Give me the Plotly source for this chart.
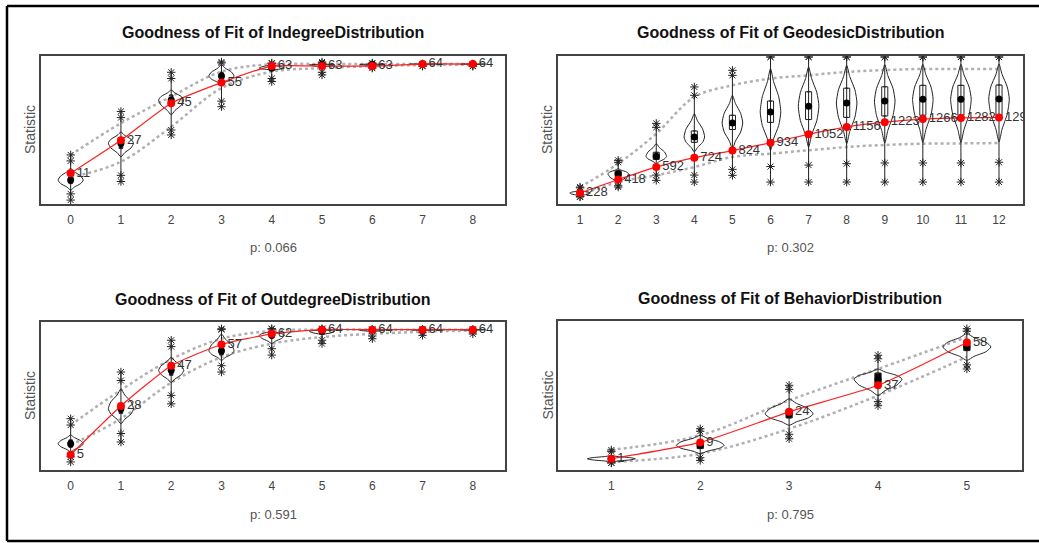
import plotly.graph_objects as go

# ---------------- data ----------------
# Indegree distribution (top-left)
IND_X = [0, 1, 2, 3, 4, 5, 6, 7, 8]
IND_OBS = [11, 27, 45, 55, 63, 63, 63, 64, 64]
IND_MED = [7.7, 25.6, 46.6, 58.2, 62.0, 63.6, 63.8, 64.0, 64.0]
IND_Q1 = [6.0, 23.0, 44.0, 56.5, 61.5, 63.0, 63.5, 64.0, 64.0]
IND_Q3 = [9.5, 28.0, 49.0, 60.0, 63.0, 64.0, 64.0, 64.0, 64.0]
IND_BAND_HI = [19.9, 35.3, 48.2, 60.3, 63.9, 64.0, 64.0, 64.0, 64.0]
IND_BAND_LO = [9.0, 16.6, 33.6, 52.3, 60.3, 62.0, 63.0, 63.5, 63.7]
IND_VIO_LO = [2.9, 19.0, 39.3, 53.9, 61.0, 62.5, 63.3, 63.7, 63.8]
IND_VIO_HI = [13.4, 31.0, 51.4, 63.6, 63.8, 64.0, 64.0, 64.0, 64.0]
IND_MIN = [-2.0, 7.0, 29.6, 43.3, 55.5, 58.7, 62.0, 63.0, 63.0]
IND_STAR_LO = [1.0, 10.0, 32.0, 46.0, 57.0, 60.0, 62.5, 63.0, 63.0]
IND_STAR_HI = [17.0, 38.0, 57.0, 64.5, 64.2, 64.5, 64.2, 64.0, 64.0]
IND_MAX = [19.9, 41.0, 60.0, 65.0, 64.5, 65.0, 64.5, 64.0, 64.0]

# Geodesic distribution (top-right)
GEO_X = [1, 2, 3, 4, 5, 6, 7, 8, 9, 10, 11, 12]
GEO_OBS = [228, 418, 592, 724, 824, 934, 1052, 1156, 1223, 1266, 1282, 1290]
GEO_MED = [228, 500, 743, 1014, 1211, 1366, 1446, 1492, 1520, 1544, 1544, 1548]
GEO_Q1 = [215, 460, 700, 940, 1120, 1220, 1260, 1290, 1310, 1320, 1320, 1320]
GEO_Q3 = [240, 540, 800, 1100, 1320, 1520, 1650, 1700, 1720, 1740, 1740, 1745]
GEO_BAND_HI = [312, 640, 1062, 1576, 1741, 1835, 1881, 1928, 1955, 1970, 1970, 1970]
GEO_BAND_LO = [200, 382, 477, 593, 734, 781, 828, 874, 903, 921, 925, 930]
GEO_VIO_LO = [185, 360, 640, 804, 851, 828, 874, 921, 930, 940, 940, 945]
GEO_VIO_HI = [265, 570, 921, 1343, 1600, 1975, 1998, 2022, 2030, 2035, 2035, 2040]
GEO_MIN = [172, 312, 406, 382, 476, 382, 382, 382, 382, 382, 382, 382]
GEO_STAR_LO = [180, 330, 480, 480, 560, 600, 620, 640, 650, 650, 650, 660]
GEO_STAR_HI = [300, 660, 1150, 1600, 1880, 2138, 2138, 2138, 2138, 2138, 2138, 2138]
GEO_MAX = [312, 687, 1206, 1717, 1951, 2138, 2138, 2138, 2138, 2138, 2138, 2138]

# Outdegree distribution (bottom-left)
OUT_X = [0, 1, 2, 3, 4, 5, 6, 7, 8]
OUT_OBS = [5, 28, 47, 57, 62, 64, 64, 64, 64]
OUT_MED = [10.2, 26.7, 44.8, 54.0, 61.3, 63.2, 63.8, 64.0, 64.0]
OUT_Q1 = [8.5, 24.5, 42.5, 52.0, 60.0, 62.5, 63.5, 64.0, 64.0]
OUT_Q3 = [12.0, 29.0, 47.0, 56.5, 62.5, 64.0, 64.0, 64.0, 64.0]
OUT_BAND_HI = [19.0, 35.5, 50.0, 59.7, 63.4, 64.0, 64.0, 64.0, 64.0]
OUT_BAND_LO = [9.6, 22.0, 39.0, 51.0, 57.4, 60.5, 62.0, 63.0, 63.5]
OUT_VIO_LO = [6.3, 19.6, 39.0, 49.5, 57.4, 61.5, 63.0, 63.5, 63.7]
OUT_VIO_HI = [14.3, 36.0, 51.0, 62.0, 63.5, 64.0, 64.0, 64.0, 64.0]
OUT_MIN = [1.6, 11.0, 29.0, 44.0, 52.0, 57.4, 59.7, 61.3, 62.0]
OUT_STAR_LO = [4.0, 15.0, 33.0, 47.0, 55.0, 59.0, 61.0, 62.5, 63.0]
OUT_STAR_HI = [19.0, 40.0, 56.0, 64.0, 64.2, 64.2, 64.0, 64.0, 64.0]
OUT_MAX = [22.0, 44.0, 59.0, 64.4, 64.5, 64.5, 64.0, 64.0, 64.0]

# Behavior distribution (bottom-right)
BEH_X = [1, 2, 3, 4, 5]
BEH_OBS = [1, 9, 24, 37, 58]
BEH_MED = [1.0, 7.6, 23.0, 40.0, 55.8]
BEH_Q1 = [0.5, 6.0, 21.0, 38.0, 54.0]
BEH_Q3 = [1.5, 9.0, 25.0, 43.0, 57.5]
BEH_BAND_HI = [5.4, 12.5, 29.6, 45.0, 60.6]
BEH_BAND_LO = [-0.6, 3.5, 15.7, 32.0, 50.9]
BEH_VIO_LO = [-0.5, 3.5, 17.4, 32.0, 49.2]
BEH_VIO_HI = [2.5, 12.5, 30.4, 45.0, 62.3]
BEH_MIN = [-1.0, 0.2, 10.8, 27.0, 45.0]
BEH_STAR_LO = [-1.0, 1.5, 13.0, 29.0, 47.0]
BEH_STAR_HI = [4.5, 14.5, 35.0, 50.0, 63.5]
BEH_MAX = [5.3, 15.7, 37.0, 51.7, 64.7]

TITLES = ["Goodness of Fit of IndegreeDistribution",
          "Goodness of Fit of GeodesicDistribution",
          "Goodness of Fit of OutdegreeDistribution",
          "Goodness of Fit of BehaviorDistribution"]
P_LABELS = ["p: 0.066", "p: 0.302", "p: 0.591", "p: 0.795"]

# relative violin outline profile (fraction of half-height, fraction of max width)
PROFILE_T = [0.0, 0.3, 0.65, 1.0]
PROFILE_W = [0.0, 0.3, 0.8, 1.0]

FONT = "Liberation Sans, Arial, sans-serif"

panels = [
    dict(x=IND_X, obs=IND_OBS, med=IND_MED, q1=IND_Q1, q3=IND_Q3, bhi=IND_BAND_HI, blo=IND_BAND_LO,
         vlo=IND_VIO_LO, vhi=IND_VIO_HI, mn=IND_MIN, slo=IND_STAR_LO, shi=IND_STAR_HI, mx=IND_MAX,
         xr=[-0.59, 8.64], yr=[-3.9, 67.9], w=0.25, boxfill="black", bw=0.07,
         xd=[41 / 1039, 505 / 1039], yd=[1 - 204 / 543, 1 - 56 / 543]),
    dict(x=GEO_X, obs=GEO_OBS, med=GEO_MED, q1=GEO_Q1, q3=GEO_Q3, bhi=GEO_BAND_HI, blo=GEO_BAND_LO,
         vlo=GEO_VIO_LO, vhi=GEO_VIO_HI, mn=GEO_MIN, slo=GEO_STAR_LO, shi=GEO_STAR_HI, mx=GEO_MAX,
         xr=[0.42, 12.63], yr=[74, 2152], w=0.27, boxfill="white", bw=0.16,
         xd=[558 / 1039, 1023 / 1039], yd=[1 - 204 / 543, 1 - 56 / 543]),
    dict(x=OUT_X, obs=OUT_OBS, med=OUT_MED, q1=OUT_Q1, q3=OUT_Q3, bhi=OUT_BAND_HI, blo=OUT_BAND_LO,
         vlo=OUT_VIO_LO, vhi=OUT_VIO_HI, mn=OUT_MIN, slo=OUT_STAR_LO, shi=OUT_STAR_HI, mx=OUT_MAX,
         xr=[-0.59, 8.64], yr=[-2.2, 67.6], w=0.25, boxfill="black", bw=0.07,
         xd=[41 / 1039, 505 / 1039], yd=[1 - 470 / 543, 1 - 322 / 543]),
    dict(x=BEH_X, obs=BEH_OBS, med=BEH_MED, q1=BEH_Q1, q3=BEH_Q3, bhi=BEH_BAND_HI, blo=BEH_BAND_LO,
         vlo=BEH_VIO_LO, vhi=BEH_VIO_HI, mn=BEH_MIN, slo=BEH_STAR_LO, shi=BEH_STAR_HI, mx=BEH_MAX,
         xr=[0.40, 5.62], yr=[-4.5, 68.5], w=0.27, boxfill="black", bw=0.07,
         xd=[558 / 1039, 1022 / 1039], yd=[1 - 470 / 543, 1 - 321 / 543]),
]

fig = go.Figure()
layout_axes = {}
annotations = []

for i, p in enumerate(panels):
    n = "" if i == 0 else str(i + 1)
    xa, ya = "x" + n, "y" + n
    common = dict(xaxis=xa, yaxis=ya, showlegend=False, hoverinfo="skip")

    # grey dotted bands
    for band in (p["bhi"], p["blo"]):
        fig.add_trace(go.Scatter(x=p["x"], y=band, mode="lines",
                                 line=dict(color="#b0b0b0", width=2.5, dash="dot", shape="spline"),
                                 **common))

    # vertical whisker lines
    vx, vy = [], []
    for xv, lo, hi in zip(p["x"], p["mn"], p["mx"]):
        vx += [xv, xv, None]
        vy += [lo, hi, None]
    fig.add_trace(go.Scatter(x=vx, y=vy, mode="lines", line=dict(color="#222", width=1), **common))

    # violin outlines
    for xv, lo, md, hi in zip(p["x"], p["vlo"], p["med"], p["vhi"]):
        right_x, right_y = [], []
        for t, wf in zip(PROFILE_T, PROFILE_W):
            right_x.append(xv + p["w"] * wf)
            right_y.append(lo + (md - lo) * t)
        for t, wf in zip(PROFILE_T[::-1][1:], PROFILE_W[::-1][1:]):
            right_x.append(xv + p["w"] * wf)
            right_y.append(md + (hi - md) * (1 - t))
        left_x = [2 * xv - v for v in right_x[::-1]]
        left_y = right_y[::-1]
        fig.add_trace(go.Scatter(x=right_x + left_x[1:], y=right_y + left_y[1:], mode="lines",
                                 line=dict(color="#222", width=1, shape="spline", smoothing=0.6),
                                 **common))

    # inner boxes
    fig.add_trace(go.Box(x=p["x"], q1=p["q1"], median=p["med"], q3=p["q3"],
                         lowerfence=p["q1"], upperfence=p["q3"], width=p["bw"],
                         fillcolor=p["boxfill"], line=dict(color="#222", width=1),
                         boxpoints=False, xaxis=xa, yaxis=ya, showlegend=False, hoverinfo="skip"))

    # simulated extreme values
    sx, sy = [], []
    for xv, a, b, c, d in zip(p["x"], p["mn"], p["slo"], p["shi"], p["mx"]):
        sx += [xv, xv, xv, xv]
        sy += [a, b, c, d]
    fig.add_trace(go.Scatter(x=sx, y=sy, mode="markers",
                             marker=dict(symbol="asterisk-open", size=7, color="#222",
                                         line=dict(color="#222", width=1)),
                             **common))

    # medians
    fig.add_trace(go.Scatter(x=p["x"], y=p["med"], mode="markers",
                             marker=dict(symbol="circle", size=7, color="black"), **common))

    # observed values
    fig.add_trace(go.Scatter(x=p["x"], y=p["obs"], mode="lines+markers+text",
                             line=dict(color="#ff2020", width=1.2, shape="spline", smoothing=0.5),
                             marker=dict(color="#ff0000", size=8),
                             text=[str(v) for v in p["obs"]], textposition="middle right",
                             textfont=dict(family=FONT, size=13, color="#333"),
                             cliponaxis=True, **common))

    layout_axes["xaxis" + n] = dict(domain=p["xd"], range=p["xr"], anchor=ya,
                                    tickvals=p["x"], ticktext=[str(v) for v in p["x"]],
                                    tickfont=dict(family=FONT, size=12, color="#444"),
                                    showgrid=False, zeroline=False,
                                    ticks="outside", ticklen=4, tickcolor="rgba(0,0,0,0)",
                                    showline=True, mirror=True, linecolor="#444", linewidth=1.5)
    layout_axes["yaxis" + n] = dict(domain=p["yd"], range=p["yr"], anchor=xa,
                                    showticklabels=False, showgrid=False, zeroline=False,
                                    ticks="", showline=True, mirror=True,
                                    linecolor="#444", linewidth=1.5)

    cx = (p["xd"][0] + p["xd"][1]) / 2
    top = p["yd"][1]
    bottom = p["yd"][0]
    annotations.append(dict(text="<b>" + TITLES[i] + "</b>", x=cx, y=top + 23 / 543,
                            xref="paper", yref="paper", showarrow=False,
                            font=dict(family=FONT, size=16, color="#111"),
                            xanchor="center", yanchor="middle"))
    annotations.append(dict(text=P_LABELS[i], x=cx, y=bottom - 44 / 543,
                            xref="paper", yref="paper", showarrow=False,
                            font=dict(family=FONT, size=13, color="#555"),
                            xanchor="center", yanchor="middle"))
    annotations.append(dict(text="Statistic", x=p["xd"][0] - 11 / 1039,
                            y=(p["yd"][0] + p["yd"][1]) / 2,
                            xref="paper", yref="paper", showarrow=False, textangle=-90,
                            font=dict(family=FONT, size=14, color="#555"),
                            xanchor="center", yanchor="middle"))

fig.update_layout(
    width=1039, height=543,
    margin=dict(l=0, r=0, t=0, b=0),
    paper_bgcolor="white", plot_bgcolor="white",
    showlegend=False,
    annotations=annotations,
    shapes=[
        dict(type="line", xref="paper", yref="paper", x0=7 / 1039, x1=1.0,
             y0=1 - 6 / 543, y1=1 - 6 / 543, line=dict(color="black", width=2.5)),
        dict(type="line", xref="paper", yref="paper", x0=7 / 1039, x1=7 / 1039,
             y0=1 - 6 / 543, y1=1 - 541 / 543, line=dict(color="black", width=2.5)),
        dict(type="line", xref="paper", yref="paper", x0=7 / 1039, x1=1.0,
             y0=1 - 541 / 543, y1=1 - 541 / 543, line=dict(color="black", width=2.5)),
    ],
    **layout_axes,
)

fig.write_html("out.html", config={"displayModeBar": False},
               post_script="document.body.style.margin='0';document.body.style.overflow='hidden';")
